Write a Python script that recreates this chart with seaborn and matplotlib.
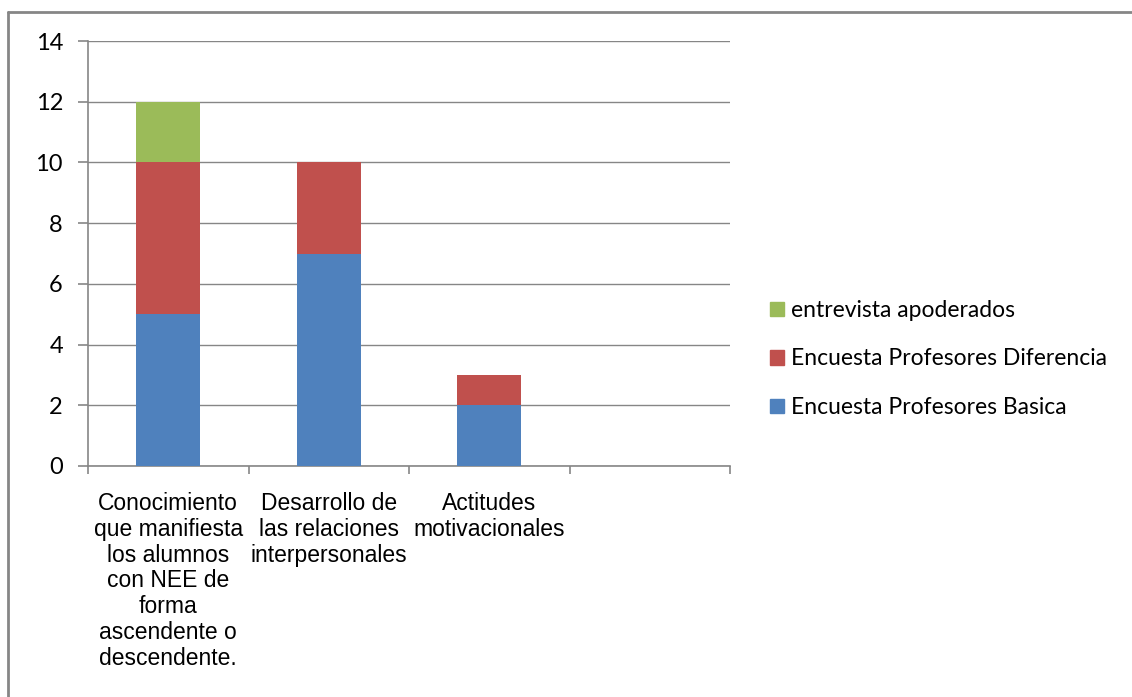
import seaborn as sns
import matplotlib.pyplot as plt
import pandas as pd
from matplotlib.lines import Line2D
from matplotlib.patches import Patch

# datos del grafico
categorias = ["Conocimiento\nque manifiesta\nlos alumnos\ncon NEE de\nforma\nascendente o\ndescendente.",
              "Desarrollo de\nlas relaciones\ninterpersonales",
              "Actitudes\nmotivacionales",
              ""]
basica = [5, 7, 2, 0]
diferencia = [5, 3, 1, 0]
apoderados = [2, 0, 0, 0]
series = ["Encuesta Profesores Basica", "Encuesta Profesores Diferencia", "entrevista apoderados"]
colores = ["#4F81BD", "#C0504D", "#9BBB59"]
yticks = [0, 2, 4, 6, 8, 10, 12, 14]

sns.set_style("white")
plt.rcParams['font.family'] = ['Lato', 'DejaVu Sans']
plt.rcParams['text.color'] = 'black'
plt.rcParams['xtick.color'] = 'black'
plt.rcParams['ytick.color'] = 'black'

df = pd.DataFrame({"cat": categorias, "b": basica, "d": diferencia, "a": apoderados})
df["bd"] = df["b"] + df["d"]
df["bda"] = df["bd"] + df["a"]

gris = "#868686"
fig = plt.figure(figsize=(11.32, 6.97), dpi=100)
ax = fig.add_axes([88 / 1132, 1 - 466 / 697, 642 / 1132, 425 / 697])

# barras apiladas: se dibuja de la suma total hacia abajo
for col, color in [("bda", colores[2]), ("bd", colores[1]), ("b", colores[0])]:
    sns.barplot(data=df, x="cat", y=col, order=categorias, color=color, saturation=1,
                width=0.4, ax=ax, linewidth=0, zorder=3)

ax.set_xlim(-0.5, 3.5)
ax.set_ylim(0, 14)
ax.set_yticks(yticks)
ax.set_xlabel("")
ax.set_ylabel("")
ax.grid(axis="y", color=gris, linewidth=1, zorder=0)
ax.set_axisbelow(True)
for s in ["top", "right"]:
    ax.spines[s].set_visible(False)
for s in ["left", "bottom"]:
    ax.spines[s].set_color(gris)
    ax.spines[s].set_linewidth(1.2)

ax.tick_params(axis="y", left=True, length=7, color=gris, width=1.2, labelsize=17, pad=11,
               labelcolor="black", direction="out")
ax.set_xticks([-0.5, 0.5, 1.5, 2.5, 3.5], minor=True)
ax.tick_params(axis="x", which="minor", bottom=True, length=6, color=gris, width=1.2, direction="out")
ax.tick_params(axis="x", which="major", length=0, pad=19, labelcolor="black")
for t in ax.get_xticklabels():
    t.set_fontfamily("Liberation Sans")
    t.set_fontsize(16.5)
    t.set_linespacing(1.15)

handles = [Patch(color=c) for c in colores[::-1]]
fig.legend(handles, series[::-1], loc="center left", bbox_to_anchor=(759 / 1132, 1 - 359 / 697),
           frameon=False, fontsize=16.5, handlelength=0.6, handleheight=0.6,
           handletextpad=0.3, labelspacing=1.2, borderpad=0, labelcolor="black")

# borde del area del grafico
fig.add_artist(Line2D([8 / 1132, 1], [1 - 12 / 697, 1 - 12 / 697], color=gris, lw=2, transform=fig.transFigure))
fig.add_artist(Line2D([8 / 1132, 8 / 1132], [0, 1 - 12 / 697], color=gris, lw=2, transform=fig.transFigure))

fig.savefig("out.png", dpi=100)
